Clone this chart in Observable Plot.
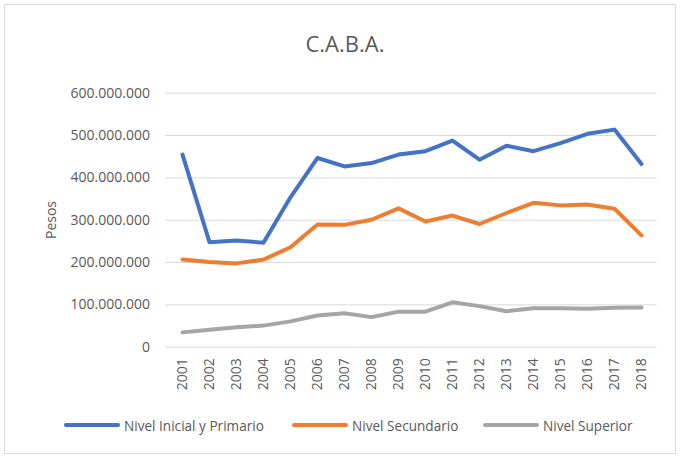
<!DOCTYPE html>
<html>
<head>
<meta charset="utf-8">
<script src="https://cdn.jsdelivr.net/npm/d3@7"></script>
<script src="https://cdn.jsdelivr.net/npm/@observablehq/plot@0.6"></script>
<style>
  html, body { margin: 0; padding: 0; background: #fff; }
  #wrap { position: relative; width: 681px; height: 459px; font-family: "Open Sans", sans-serif; color: #595959; }
  #frame { position: absolute; left: 4px; top: 4px; width: 672px; height: 450px; border: 1px solid #D9D9D9; box-sizing: border-box; }
  #title { position: absolute; left: 0; width: 690px; top: 28px; text-align: center; font-size: 22px; line-height: 30px; color: #595959; }
  #ylabel { position: absolute; left: 51px; top: 220px; transform: translate(-50%, -50%) rotate(-90deg); font-size: 14px; line-height: 16px; white-space: nowrap; }
  #chart { position: absolute; left: 0; top: 0; }
  .item { position: absolute; top: 415px; height: 20px; display: flex; align-items: center; font-size: 13.6px; white-space: nowrap; }
  .sw { width: 56px; height: 4px; border-radius: 2px; margin-right: 4px; }
</style>
</head>
<body>
<div id="wrap">
  <div id="frame"></div>
  <div id="chart"></div>
  <div id="title">C.A.B.A.</div>
  <div id="ylabel">Pesos</div>
  <div id="legend"></div>
</div>
<script>
const years = ["2001","2002","2003","2004","2005","2006","2007","2008","2009","2010","2011","2012","2013","2014","2015","2016","2017","2018"];
const seriesNames = ["Nivel Inicial y Primario", "Nivel Secundario", "Nivel Superior"];
const seriesColors = ["#4472C4", "#ED7D31", "#A5A5A5"];
const inicialPrimario = [455e6, 248e6, 252e6, 247e6, 354e6, 447e6, 427e6, 435e6, 455e6, 463e6, 488e6, 443e6, 476e6, 463e6, 482e6, 504e6, 514e6, 433e6];
const secundario = [207e6, 201e6, 198e6, 207e6, 236e6, 290e6, 289e6, 301e6, 328e6, 297e6, 311e6, 291e6, 317e6, 341e6, 335e6, 337e6, 327e6, 264e6];
const superior = [35e6, 41e6, 47e6, 51e6, 61e6, 75e6, 80e6, 71e6, 84e6, 84e6, 106e6, 97e6, 85e6, 92e6, 92e6, 91e6, 93e6, 94e6];
const yTicks = [0, 100e6, 200e6, 300e6, 400e6, 500e6, 600e6];

const allSeries = [inicialPrimario, secundario, superior];
const data = allSeries.flatMap((vals, si) => vals.map((v, i) => ({year: years[i], value: v, series: seriesNames[si]})));

const fmt = d => d3.format(",")(d).replace(/,/g, ".");

const plot = Plot.plot({
  width: 681,
  height: 459,
  marginTop: 92.7,
  marginBottom: 112.3,
  marginLeft: 165.4,
  marginRight: 24.4,
  style: { fontFamily: "Open Sans, sans-serif", fontSize: "14px", color: "#595959", background: "transparent" },
  x: { type: "point", domain: years, padding: 0.5 },
  y: { domain: [0, 600e6] },
  color: { domain: seriesNames, range: seriesColors },
  marks: [
    Plot.gridY(yTicks, { stroke: "#D9D9D9", strokeOpacity: 1, strokeWidth: 1 }),
    Plot.axisY({ ticks: yTicks, tickFormat: fmt, tickSize: 0, tickPadding: 16, fill: "#595959", fontSize: 14, label: null }),
    Plot.axisX({ tickRotate: -90, tickSize: 0, tickPadding: 11, fill: "#595959", fontSize: 14, label: null }),
    Plot.lineY(data, { x: "year", y: "value", z: "series", stroke: "series", strokeWidth: 4,
      strokeLinejoin: "round", strokeLinecap: "round" })
  ]
});
document.getElementById("chart").appendChild(plot);

const legendLefts = [64, 292, 483];
const legend = document.getElementById("legend");
seriesNames.forEach((name, i) => {
  const it = document.createElement("div");
  it.className = "item";
  it.style.left = legendLefts[i] + "px";
  const sw = document.createElement("div");
  sw.className = "sw";
  sw.style.background = seriesColors[i];
  const tx = document.createElement("span");
  tx.textContent = name;
  it.appendChild(sw);
  it.appendChild(tx);
  legend.appendChild(it);
});
</script>
</body>
</html>
